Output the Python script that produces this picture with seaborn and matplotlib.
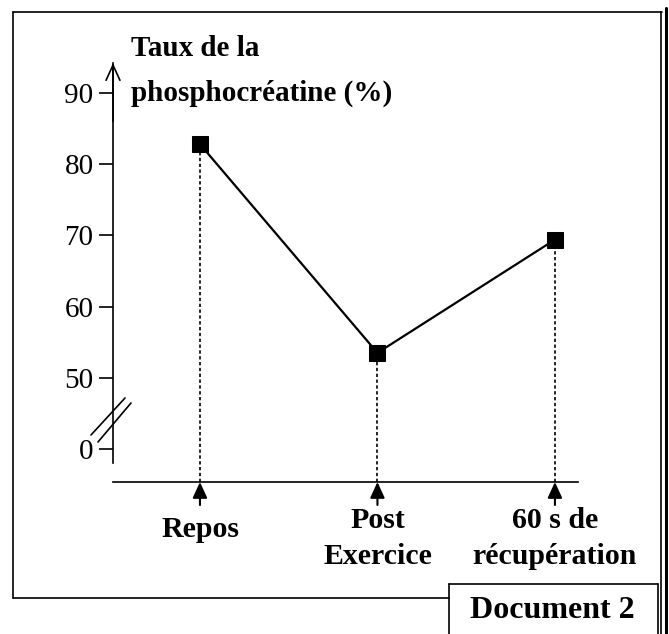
import numpy as np
import pandas as pd
import seaborn as sns
import matplotlib.pyplot as plt
from matplotlib.lines import Line2D
from matplotlib.transforms import ScaledTranslation

moments = ['Repos', 'Post\nExercice', '60 s de\nrécupération']
taux_pcr = [82.8, 53.5, 69.4]
# the axis is broken: position 40 carries the "0" label
y_ticks = [40, 50, 60, 70, 80, 90]
y_tick_labels = ['0', '50', '60', '70', '80', '90']

df = pd.DataFrame({'Moment': np.arange(len(moments)), 'PCr': taux_pcr})

sns.set_style("white")
plt.rcParams['font.family'] = ['Liberation Serif', 'DejaVu Serif']
plt.rcParams['text.color'] = 'black'
plt.rcParams['xtick.color'] = 'black'
plt.rcParams['ytick.color'] = 'black'

W, H = 669, 634
fig = plt.figure(figsize=(W / 100, H / 100), dpi=100)
ax = fig.add_axes([113 / W, 1 - 482 / H, 465 / W, (482 - 63) / H])
ax.set_xlim(-0.49, 2.13)
ax.set_ylim(35.37, 94.2)

# dashed drop lines, then the curve with square markers
ax.vlines(df['Moment'], ax.get_ylim()[0], df['PCr'], colors='black',
          linestyles=(0, (2, 1.5)), lw=1.2, zorder=1)
sns.lineplot(data=df, x='Moment', y='PCr', marker='s', markersize=12,
             color='black', lw=1.6, markeredgecolor='black', ax=ax, zorder=3)
ax.set_xlabel('')
ax.set_ylabel('')

# axes look
for side in ['top', 'right']:
    ax.spines[side].set_visible(False)
ax.spines['left'].set_bounds(38.0, 94.2)
ax.spines['left'].set_linewidth(1.2)
ax.spines['bottom'].set_linewidth(1.2)
ax.spines['left'].set_color('black')
ax.spines['bottom'].set_color('black')

ax.set_yticks(y_ticks, y_tick_labels)
ax.tick_params(axis='y', direction='out', length=10, width=1.2, pad=4,
               labelsize=21, colors='black', left=True)
ax.set_xticks(df['Moment'])
ax.set_xticklabels(moments, fontweight='bold', linespacing=1.45)
ax.tick_params(axis='x', length=0, pad=18, labelsize=21.5, colors='black')
# single-line label sits a little lower in the document
repos = ax.get_xticklabels()[0]
repos.set_transform(repos.get_transform()
                    + ScaledTranslation(0, -0.09, fig.dpi_scale_trans))

# open arrow on top of the y axis
ax.annotate('', xy=(0, 94.2), xycoords=('axes fraction', 'data'),
            xytext=(0, 86), textcoords=('axes fraction', 'data'),
            arrowprops=dict(arrowstyle='->,head_length=0.55,head_width=0.25',
                            mutation_scale=20, lw=1.2, color='black',
                            shrinkA=0, shrinkB=0),
            annotation_clip=False)

# small filled arrows under the x axis
for x in df['Moment']:
    ax.annotate('', xy=(x, 0), xycoords=('data', 'axes fraction'),
                xytext=(0, -23), textcoords='offset pixels',
                arrowprops=dict(arrowstyle='-|>,head_length=0.48,head_width=0.22',
                                mutation_scale=20, lw=1.5, color='black',
                                shrinkA=0, shrinkB=0),
                annotation_clip=False)


def px_line(x0, y0, x1, y1, lw=1.2):
    fig.add_artist(Line2D([x0 / W, x1 / W], [1 - y0 / H, 1 - y1 / H],
                          color='black', lw=lw))


# axis break marks
px_line(91, 435, 125, 398)
px_line(98, 442, 131, 403)

# y axis title
fig.text(131 / W, 1 - 56 / H, 'Taux de la', fontsize=21, fontweight='bold',
         ha='left', va='baseline')
fig.text(131 / W, 1 - 101 / H, 'phosphocréatine (%)', fontsize=21,
         fontweight='bold', ha='left', va='baseline')

# document frame
px_line(13, 12, 662, 12)
px_line(13, 12, 13, 598)
px_line(13, 598, 449, 598)
px_line(661, 12, 661, 634)
px_line(666, 8, 666, 634, lw=2.2)
px_line(449, 584, 449, 634)
px_line(449, 584, 658, 584)
px_line(658, 584, 658, 634)
fig.text(552 / W, 1 - 611 / H, 'Document 2', fontsize=23, fontweight='bold',
         ha='center', va='center')

fig.savefig('out.png', dpi=100)
